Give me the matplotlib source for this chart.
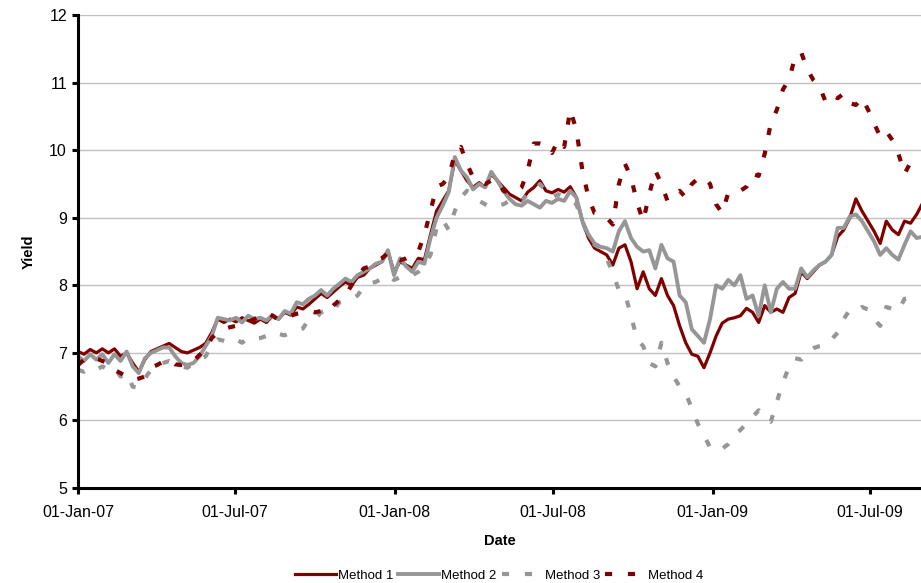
import numpy as np
import pandas as pd
import matplotlib
matplotlib.use("Agg")
import matplotlib.pyplot as plt
import matplotlib.dates as mdates

plt.rcParams['font.family'] = ['Liberation Sans', 'DejaVu Sans']

# weekly observations starting Monday 1 Jan 2007
dates = pd.date_range("2007-01-01", periods=140, freq="7D")

method1 = [
    7.02, 6.98, 7.05, 7.00, 7.06, 7.00, 7.06, 6.95, 7.00, 6.85,
    6.72, 6.90, 7.02, 7.06, 7.10, 7.14, 7.08, 7.02, 7.00, 7.04,
    7.08, 7.14, 7.30, 7.50, 7.45, 7.50, 7.46, 7.52, 7.48, 7.44,
    7.50, 7.45, 7.55, 7.50, 7.60, 7.56, 7.68, 7.65, 7.72, 7.80,
    7.88, 7.82, 7.90, 7.98, 8.05, 8.00, 8.12, 8.15, 8.25, 8.30,
    8.35, 8.50, 8.20, 8.35, 8.30, 8.25, 8.40, 8.38, 8.75, 9.10,
    9.25, 9.40, 9.85, 9.70, 9.55, 9.45, 9.52, 9.45, 9.65, 9.55,
    9.45, 9.35, 9.30, 9.25, 9.38, 9.45, 9.55, 9.40, 9.37, 9.42,
    9.38, 9.46, 9.30, 8.95, 8.70, 8.55, 8.50, 8.45, 8.30, 8.55,
    8.60, 8.35, 7.95, 8.20, 7.95, 7.85, 8.10, 7.85, 7.70, 7.40,
    7.15, 6.98, 6.95, 6.78, 7.00, 7.25, 7.44, 7.50, 7.52, 7.55,
    7.66, 7.60, 7.45, 7.70, 7.60, 7.65, 7.60, 7.82, 7.88, 8.20,
    8.10, 8.20, 8.30, 8.35, 8.45, 8.72, 8.82, 9.00, 9.28, 9.10,
    8.95, 8.80, 8.62, 8.95, 8.82, 8.75, 8.95, 8.92, 9.05, 9.22,
]

method2 = [
    6.95, 6.88, 6.98, 6.90, 6.98, 6.85, 6.98, 6.88, 7.02, 6.80,
    6.70, 6.92, 7.00, 7.04, 7.08, 7.08, 6.95, 6.85, 6.82, 6.85,
    6.95, 7.10, 7.25, 7.52, 7.50, 7.48, 7.52, 7.45, 7.55, 7.50,
    7.52, 7.48, 7.56, 7.50, 7.62, 7.58, 7.75, 7.72, 7.80, 7.85,
    7.93, 7.85, 7.95, 8.02, 8.10, 8.05, 8.15, 8.20, 8.25, 8.32,
    8.35, 8.52, 8.15, 8.40, 8.28, 8.20, 8.35, 8.32, 8.70, 9.00,
    9.18, 9.38, 9.90, 9.70, 9.60, 9.42, 9.50, 9.45, 9.68, 9.55,
    9.40, 9.28, 9.20, 9.18, 9.25, 9.20, 9.15, 9.25, 9.22, 9.28,
    9.25, 9.40, 9.30, 8.95, 8.75, 8.62, 8.57, 8.55, 8.50, 8.80,
    8.95, 8.70, 8.57, 8.50, 8.52, 8.25, 8.60, 8.40, 8.35, 7.85,
    7.75, 7.35, 7.25, 7.15, 7.50, 8.00, 7.95, 8.08, 8.00, 8.15,
    7.80, 7.85, 7.55, 8.00, 7.60, 7.95, 8.05, 7.95, 7.95, 8.25,
    8.12, 8.22, 8.30, 8.35, 8.45, 8.85, 8.85, 9.02, 9.05, 8.95,
    8.80, 8.65, 8.45, 8.55, 8.45, 8.38, 8.60, 8.80, 8.70, 8.72,
]

method3 = [
    6.75, 6.72, 6.78, 6.75, 6.80, 6.75, 6.78, 6.65, 6.70, 6.50,
    6.48, 6.62, 6.75, 6.82, 6.85, 6.88, 6.85, 6.80, 6.78, 6.85,
    6.90, 6.95, 7.12, 7.20, 7.18, 7.15, 7.20, 7.15, 7.22, 7.20,
    7.22, 7.25, 7.22, 7.28, 7.26, 7.30, 7.32, 7.36, 7.50, 7.50,
    7.60, 7.64, 7.62, 7.75, 7.78, 7.80, 7.85, 7.98, 8.03, 8.05,
    8.10, 8.15, 8.08, 8.12, 8.10, 8.15, 8.20, 8.30, 8.45, 8.85,
    8.97, 8.82, 9.10, 9.30, 9.40, 9.35, 9.25, 9.20, 9.15, 9.18,
    9.20, 9.25, 9.30, 9.25, 9.35, 9.40, 9.50, 9.40, 9.30, 9.35,
    9.30, 9.25, 9.20, 8.95, 8.70, 8.60, 8.55, 8.40, 8.18, 7.93,
    7.88, 7.55, 7.20, 7.10, 6.85, 6.80, 7.15, 6.85, 6.65, 6.50,
    6.40, 6.18, 5.95, 5.78, 5.60, 5.55, 5.58, 5.65, 5.78, 5.86,
    5.95, 6.05, 6.15, 6.05, 5.98, 6.28, 6.56, 6.80, 6.92, 6.90,
    7.02, 7.07, 7.10, 7.12, 7.20, 7.30, 7.50, 7.64, 7.62, 7.68,
    7.64, 7.50, 7.40, 7.68, 7.65, 7.62, 7.80, 7.81, 7.82, 7.80,
]

method4 = [
    6.82, 6.90, 6.88, 6.92, 6.88, 6.85, 6.75, 6.70, 6.65, 6.60,
    6.62, 6.65, 6.78, 6.82, 6.87, 6.90, 6.83, 6.82, 6.84, 6.88,
    6.97, 7.05, 7.22, 7.30, 7.35, 7.38, 7.40, 7.42, 7.46, 7.50,
    7.55, 7.59, 7.55, 7.49, 7.52, 7.55, 7.58, 7.60, 7.62, 7.60,
    7.62, 7.60, 7.70, 7.78, 7.85, 8.00, 8.12, 8.25, 8.28, 8.35,
    8.40, 8.48, 8.40, 8.37, 8.40, 8.45, 8.50, 8.75, 9.10, 9.46,
    9.50, 9.60, 9.95, 10.05, 9.80, 9.60, 9.55, 9.50, 9.55, 9.56,
    9.40, 9.37, 9.38, 9.45, 9.70, 10.10, 10.10, 10.08, 9.96, 10.15,
    10.05, 10.60, 10.30, 9.70, 9.30, 9.07, 9.05, 9.00, 8.90, 9.50,
    9.80, 9.60, 9.22, 8.95, 9.35, 9.70, 9.50, 9.25, 9.35, 9.40,
    9.30, 9.50, 9.58, 9.60, 9.50, 9.20, 9.07, 9.37, 9.38, 9.40,
    9.46, 9.65, 9.62, 9.95, 10.40, 10.60, 10.90, 11.05, 11.38, 11.45,
    11.20, 11.04, 10.95, 10.72, 10.82, 10.77, 10.84, 10.70, 10.67, 10.78,
    10.60, 10.40, 10.20, 10.28, 10.15, 9.95, 9.65, 9.82, 9.80, 9.75,
]

dark_red = "#800000"
grey = "#969696"

fig = plt.figure(figsize=(9.21, 5.83), dpi=100)
ax = fig.add_axes([0.0847, 0.163, 0.9153, 0.811])

ax.plot(dates, method1, color=dark_red, lw=2.3, label="Method 1")
ax.plot(dates, method2, color=grey, lw=2.8, label="Method 2")
ax.plot(dates, method3, color=grey, lw=3.0, linestyle=(0, (1.7, 3.8)),
        label="Method 3")
ax.plot(dates, method4, color=dark_red, lw=3.0, linestyle=(0, (1.7, 3.8)),
        label="Method 4")

ax.set_ylim(5, 12)
ax.set_yticks(range(5, 13))
ax.set_xlim(pd.Timestamp("2007-01-01"), pd.Timestamp("2009-08-29"))
ax.xaxis.set_major_locator(mdates.MonthLocator(bymonth=[1, 7], bymonthday=1))
ax.xaxis.set_major_formatter(mdates.DateFormatter("%d-%b-%y"))

ax.grid(axis="y", color="#c0c0c0", lw=1.0)
ax.set_axisbelow(True)
for side in ("top", "right"):
    ax.spines[side].set_visible(False)
for side in ("left", "bottom"):
    ax.spines[side].set_linewidth(2.2)
ax.tick_params(axis="both", direction="out", length=4, width=2.2,
               labelsize=11.5)
ax.tick_params(axis="x", pad=8)
ax.tick_params(axis="y", pad=4)

ax.set_ylabel("Yield", fontsize=10.5, fontweight="bold", labelpad=10)
ax.set_xlabel("Date", fontsize=10.5, fontweight="bold", labelpad=10)

fig.legend(loc="lower center", bbox_to_anchor=(0.542, -0.018), ncol=4,
           frameon=False, fontsize=9.5, handlelength=3.1, handletextpad=0.15,
           columnspacing=0.4)

fig.savefig("out.png", dpi=100)
